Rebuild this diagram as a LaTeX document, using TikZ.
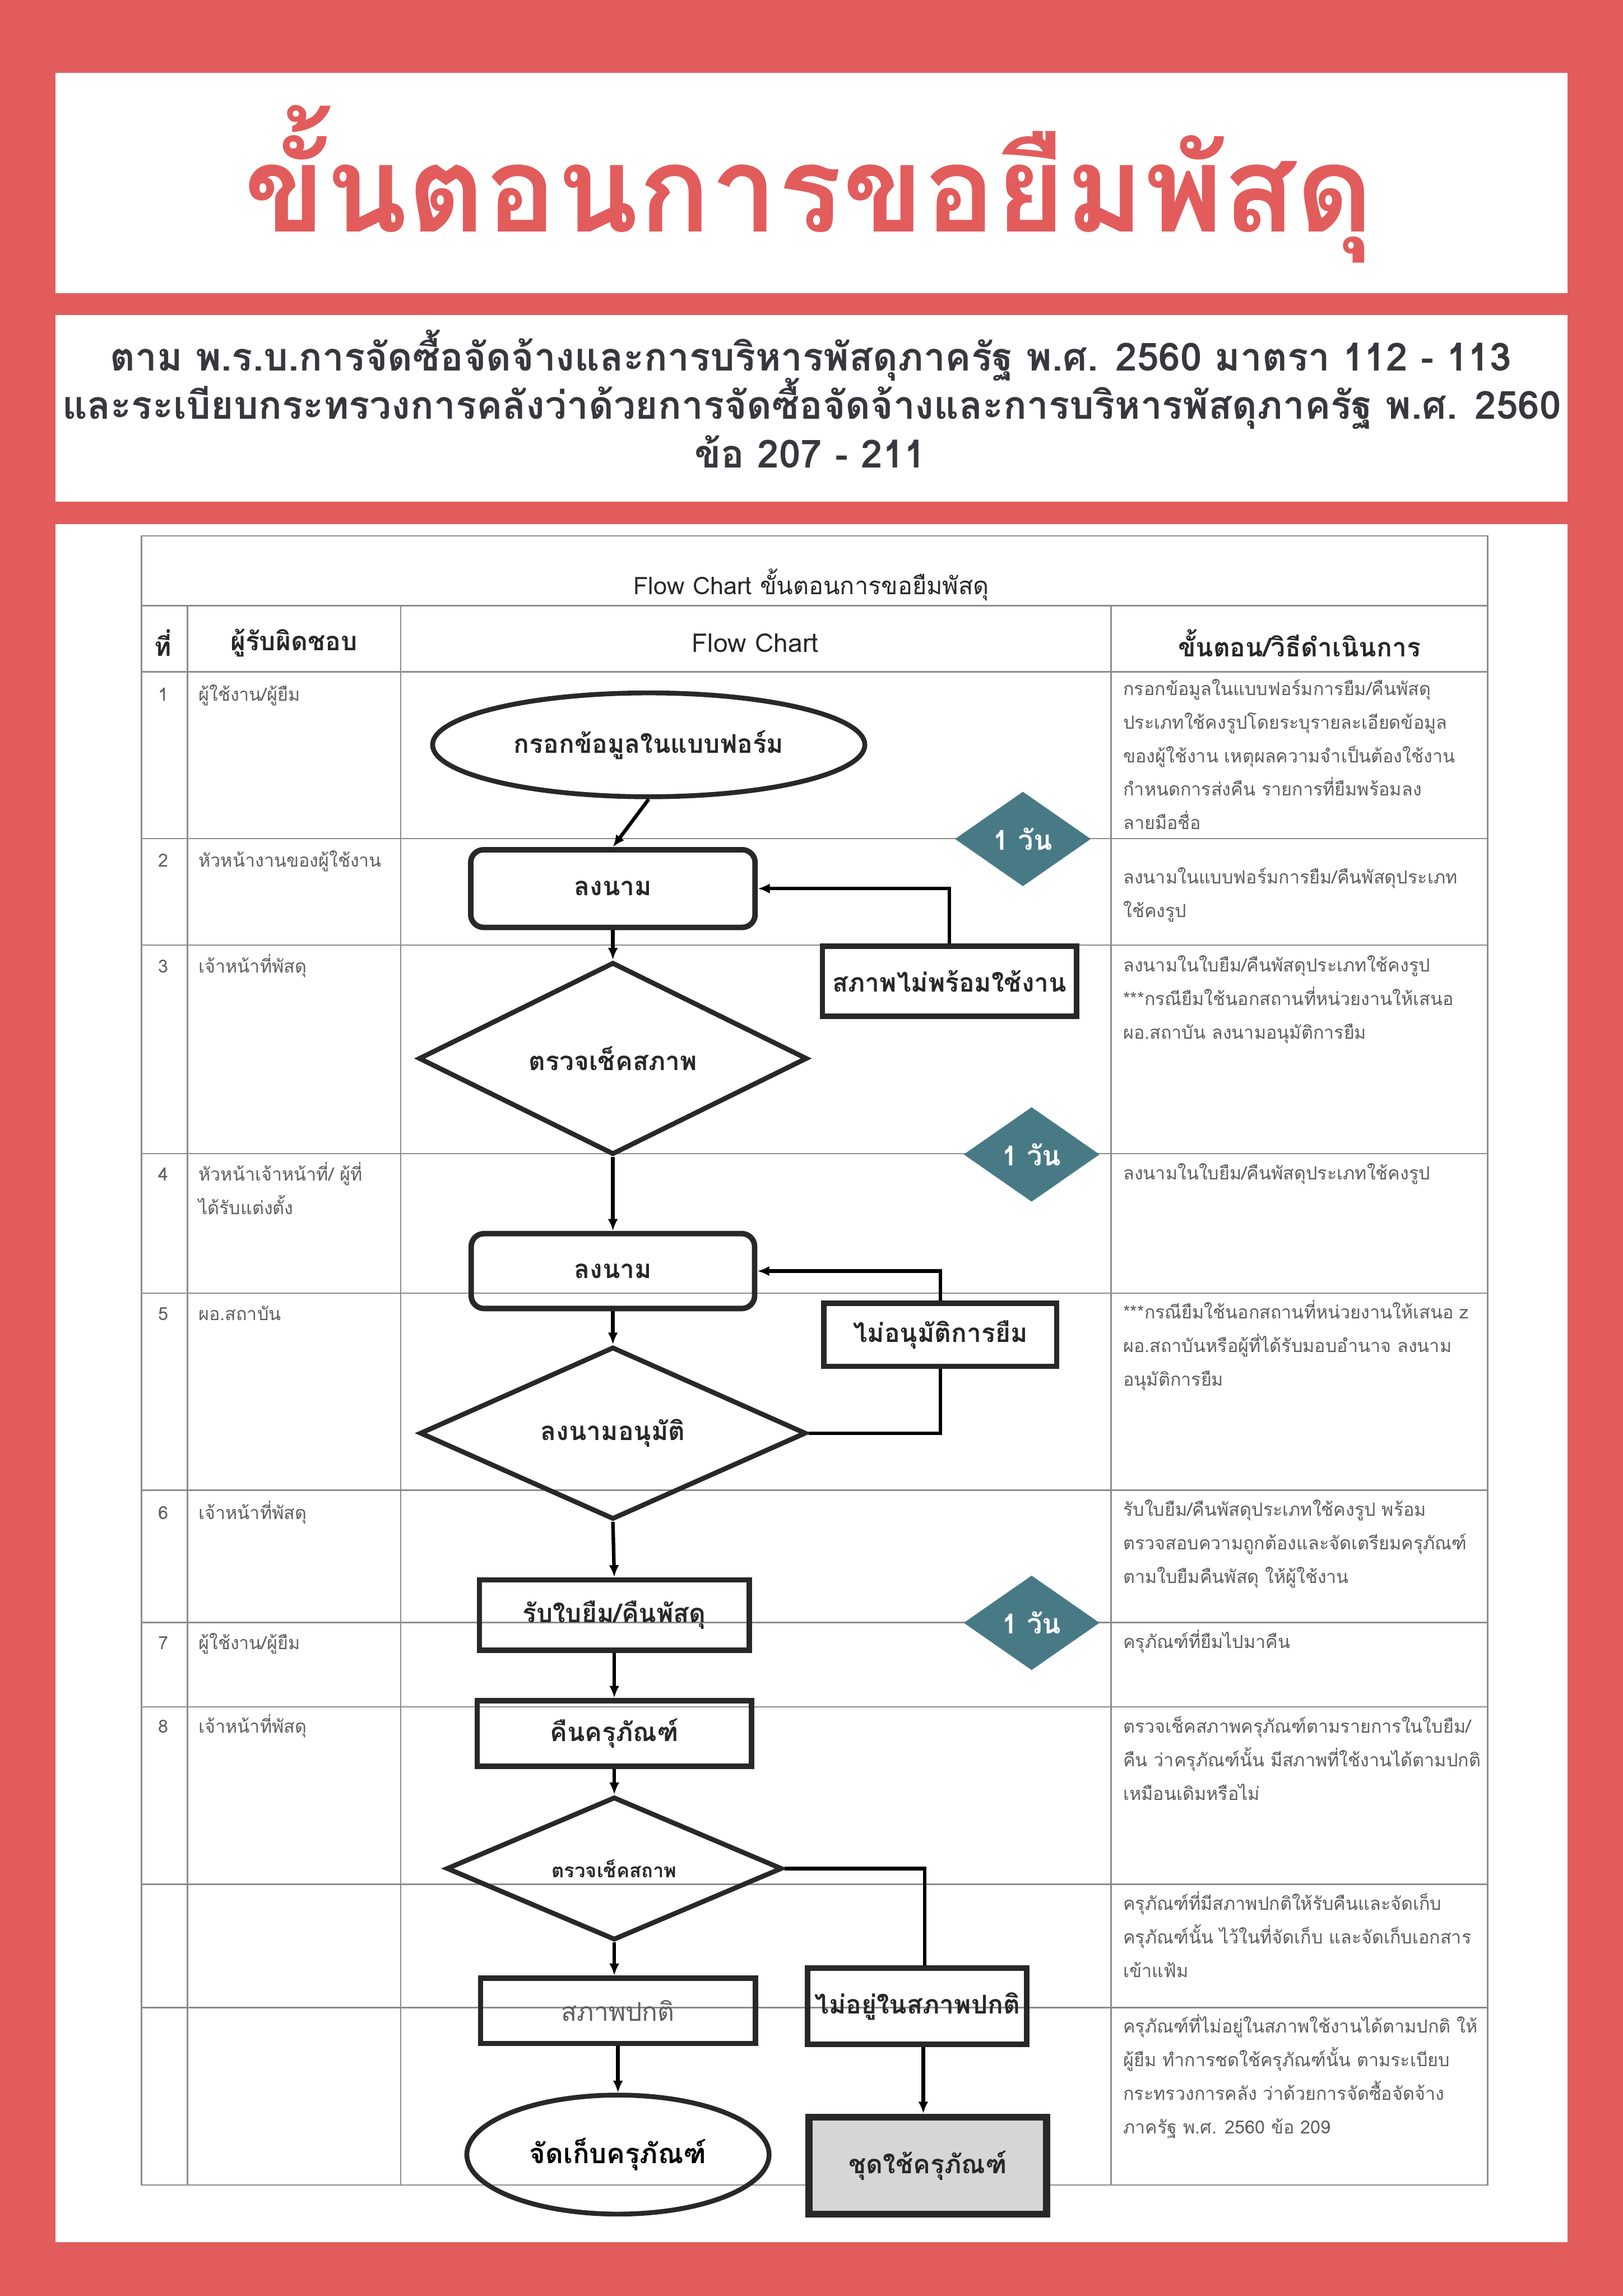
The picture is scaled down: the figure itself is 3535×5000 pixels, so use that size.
\documentclass[tikz,border=0pt]{standalone}
\usepackage{fontspec}
\setmainfont{Loma}[Script=Thai]
\usetikzlibrary{shapes.geometric,arrows.meta,positioning}

\definecolor{bgred}{RGB}{226,92,92}
\definecolor{subink}{RGB}{55,55,62}
\definecolor{dayteal}{RGB}{72,122,134}
\definecolor{gridgray}{RGB}{140,140,140}
\definecolor{descgray}{RGB}{95,95,95}
\definecolor{inkgray}{RGB}{40,40,40}
\definecolor{repaygray}{RGB}{214,214,214}

\newcommand{\desctext}{\fontsize{11.2}{20.8}\selectfont}
\newcommand{\flowtext}{\fontsize{16}{19}\selectfont\bfseries}

\tikzset{
  tableline/.style={draw=gridgray,line width=0.9pt},
  procbox/.style={rectangle,draw=inkgray,line width=3.4pt,text=inkgray,font=\flowtext,inner sep=0pt},
  roundbox/.style={procbox,rounded corners=0.28cm},
  decision/.style={diamond,draw=inkgray,line width=3pt,text=inkgray,font=\flowtext,inner sep=0pt},
  terminal/.style={ellipse,draw=inkgray,line width=3pt,text=inkgray,font=\flowtext,inner sep=0pt},
  daybadge/.style={diamond,fill=dayteal,text=white,font=\fontsize{17}{20}\selectfont\bfseries,
    minimum width=2.96cm,minimum height=2.06cm,inner sep=0pt},
  flow/.style={-{Latex[length=0.26cm,width=0.22cm]},line width=2.2pt,draw=black},
  link/.style={line width=2.2pt,draw=black},
  desc/.style={anchor=north west,align=left,inner sep=0pt,text=descgray,font=\desctext},
}

\begin{document}
\begin{tikzpicture}[x=0.01cm,y=-0.01cm]
  % page and panels
  \fill[bgred] (0,0) rectangle (3535,5000);
  \fill[white] (121,159) rectangle (3414,638);
  \fill[white] (121,686) rectangle (3414,1093);
  \fill[white] (121,1141) rectangle (3414,4883);
  \useasboundingbox (0,0) rectangle (3535,5000);

  % headings
  \node[anchor=base,text=bgred,font=\fontsize{74}{84}\selectfont\bfseries] (title) at (1762,505) {ขั้นตอนการขอยืมพัสดุ};
  \node[anchor=base,text=subink,font=\fontsize{24}{28}\selectfont\bfseries] (law1) at (1766,807)
    {ตาม พ.ร.บ.การจัดซื้อจัดจ้างและการบริหารพัสดุภาครัฐ พ.ศ. 2560 มาตรา 112 - 113};
  \node[anchor=base,text=subink,font=\fontsize{24}{28}\selectfont\bfseries] (law2) at (1768,913)
    {และระเบียบกระทรวงการคลังว่าด้วยการจัดซื้อจัดจ้างและการบริหารพัสดุภาครัฐ พ.ศ. 2560};
  \node[anchor=base,text=subink,font=\fontsize{24}{28}\selectfont\bfseries] (law3) at (1765,1019) {ข้อ 207 - 211};

  % table grid
  \draw[tableline] (308,1167) rectangle (3240,4758);
  \draw[tableline] (308,1319) -- (3240,1319);
  \foreach \y in {1463,1826,2058,2512,2816,3245,3533,3717,4103,4372}
    \draw[tableline] (308,\y) -- (3240,\y);
  \foreach \x in {408,873,2420}
    \draw[tableline] (\x,1319) -- (\x,4758);

  \node[text=inkgray,font=\fontsize{15}{18}\selectfont] (charttitle) at (1767,1273) {Flow Chart ขั้นตอนการขอยืมพัสดุ};
  \node[text=inkgray,font=\fontsize{16}{19}\selectfont\bfseries] (hno) at (355,1400) {ที่};
  \node[text=inkgray,font=\fontsize{16}{19}\selectfont\bfseries] (hwho) at (640,1400) {ผู้รับผิดชอบ};
  \node[text=inkgray,font=\fontsize{16}{19}\selectfont] (hchart) at (1645,1400) {Flow Chart};
  \node[text=inkgray,font=\fontsize{16}{19}\selectfont\bfseries] (hstep) at (2830,1400) {ขั้นตอน/วิธีดำเนินการ};

  % responsible persons
  \foreach \n/\y/\who in {1/1474/{ผู้ใช้งาน/ผู้ยืม},2/1836/{หัวหน้างานของผู้ใช้งาน},3/2067/{เจ้าหน้าที่พัสดุ},
      4/2520/{หัวหน้าเจ้าหน้าที่/ ผู้ที่\\ได้รับแต่งตั้ง},5/2823/{ผอ.สถาบัน},6/3257/{เจ้าหน้าที่พัสดุ},
      7/3540/{ผู้ใช้งาน/ผู้ยืม},8/3722/{เจ้าหน้าที่พัสดุ}} {
    \node[desc,anchor=north] (no\n) at (356,\y) {\strut\n};
    \node[desc] (who\n) at (432,\y) {\strut\who};
  }

  % procedure texts
  \node[desc] (d1) at (2446,1462) {\strut กรอกข้อมูลในแบบฟอร์มการยืม/คืนพัสดุ\\ประเภทใช้คงรูปโดยระบุรายละเอียดข้อมูล\\ของผู้ใช้งาน เหตุผลความจำเป็นต้องใช้งาน\\กำหนดการส่งคืน รายการที่ยืมพร้อมลง\\ลายมือชื่อ};
  \node[desc] (d2) at (2446,1872) {\strut ลงนามในแบบฟอร์มการยืม/คืนพัสดุประเภท\\ใช้คงรูป};
  \node[desc] (d3) at (2446,2064) {\strut ลงนามในใบยืม/คืนพัสดุประเภทใช้คงรูป\\***กรณียืมใช้นอกสถานที่หน่วยงานให้เสนอ\\ผอ.สถาบัน ลงนามอนุมัติการยืม};
  \node[desc] (d4) at (2446,2517) {\strut ลงนามในใบยืม/คืนพัสดุประเภทใช้คงรูป};
  \node[desc] (d5) at (2446,2820) {\strut ***กรณียืมใช้นอกสถานที่หน่วยงานให้เสนอ z\\ผอ.สถาบันหรือผู้ที่ได้รับมอบอำนาจ ลงนาม\\อนุมัติการยืม};
  \node[desc] (d6) at (2446,3250) {\strut รับใบยืม/คืนพัสดุประเภทใช้คงรูป พร้อม\\ตรวจสอบความถูกต้องและจัดเตรียมครุภัณฑ์\\ตามใบยืมคืนพัสดุ ให้ผู้ใช้งาน};
  \node[desc] (d7) at (2446,3537) {\strut ครุภัณฑ์ที่ยืมไปมาคืน};
  \node[desc] (d8) at (2446,3722) {\strut ตรวจเช็คสภาพครุภัณฑ์ตามรายการในใบยืม/\\คืน ว่าครุภัณฑ์นั้น มีสภาพที่ใช้งานได้ตามปกติ\\เหมือนเดิมหรือไม่};
  \node[desc] (d9) at (2446,4108) {\strut ครุภัณฑ์ที่มีสภาพปกติให้รับคืนและจัดเก็บ\\ครุภัณฑ์นั้น ไว้ในที่จัดเก็บ และจัดเก็บเอกสาร\\เข้าแฟ้ม};
  \node[desc] (d10) at (2446,4375) {\strut ครุภัณฑ์ที่ไม่อยู่ในสภาพใช้งานได้ตามปกติ ให้\\ผู้ยืม ทำการชดใช้ครุภัณฑ์นั้น ตามระเบียบ\\กระทรวงการคลัง ว่าด้วยการจัดซื้อจัดจ้าง\\ภาครัฐ พ.ศ. 2560 ข้อ 209};

  % flow chart
  \node[terminal,minimum width=9.41cm,minimum height=2.26cm] (form) at (1413,1622) {กรอกข้อมูลในแบบฟอร์ม};
  \node[roundbox,minimum width=6.19cm,minimum height=1.69cm] (sign1) at (1335,1935) {ลงนาม};
  \node[procbox,minimum width=5.53cm,minimum height=1.53cm] (unready) at (2068,2137) {สภาพไม่พร้อมใช้งาน};
  \node[decision,minimum width=8.46cm,minimum height=2.90cm] (check1) at (1335,2305) {ตรวจเช็คสภาพ};
  \node[roundbox,minimum width=6.17cm,minimum height=1.63cm] (sign2) at (1335,2768) {ลงนาม};
  \node[procbox,minimum width=5.07cm,minimum height=1.37cm] (deny) at (2048,2907) {ไม่อนุมัติการยืม};
  \node[decision,minimum width=8.41cm,minimum height=2.90cm] (approve) at (1335,3121) {ลงนามอนุมัติ};
  \node[procbox,minimum width=5.87cm,minimum height=1.53cm] (slip) at (1338,3517) {รับใบยืม/คืนพัสดุ};
  \node[procbox,minimum width=5.97cm,minimum height=1.43cm] (giveback) at (1338,3775) {คืนครุภัณฑ์};
  \node[decision,minimum width=7.31cm,minimum height=2.74cm,font=\fontsize{12}{14}\selectfont\bfseries] (check2) at (1338,4069) {ตรวจเช็คสถาพ};
  \node[procbox,minimum width=5.98cm,minimum height=1.42cm,font=\fontsize{16}{19}\selectfont,text=descgray] (normal) at (1346,4379) {สภาพปกติ};
  \node[procbox,minimum width=4.77cm,minimum height=1.66cm] (abnormal) at (1998,4369) {ไม่อยู่ในสภาพปกติ};
  \node[terminal,minimum width=6.58cm,minimum height=2.59cm,text=black,font=\fontsize{17}{20}\selectfont\bfseries] (store) at (1346,4692) {จัดเก็บครุภัณฑ์};
  \node[procbox,fill=repaygray,line width=4.4pt,minimum width=5.17cm,minimum height=2.11cm] (repay) at (2021,4716) {ชุดใช้ครุภัณฑ์};

  \node[daybadge] (day1) at (2228,1827) {1 วัน};
  \node[daybadge] (day2) at (2247,2514) {1 วัน};
  \node[daybadge] (day3) at (2247,3534) {1 วัน};

  % connectors
  \draw[flow] (form.south) -- (sign1.north);
  \draw[flow] (unready.north) |- (sign1.east);
  \draw[flow] (sign1.south) -- (check1.north);
  \draw[flow] (check1.south) -- (sign2.north);
  \draw[flow] (deny.north) |- (sign2.east);
  \draw[flow] (sign2.south) -- (approve.north);
  \draw[link] (approve.east) -| (deny.south);
  \draw[flow] (approve.south) -- (slip.north);
  \draw[flow] (slip.south) -- (giveback.north);
  \draw[flow] (giveback.south) -- (check2.north);
  \draw[flow] (check2.south) -- (check2.south |- normal.north);
  \draw[link] (check2.east) -| ([xshift=0.16cm]abnormal.north);
  \draw[flow] (normal.south) -- (store.north);
  \draw[flow] ([xshift=0.13cm]abnormal.south) -- ([xshift=0.13cm]abnormal.south |- repay.north);
\end{tikzpicture}
\end{document}
